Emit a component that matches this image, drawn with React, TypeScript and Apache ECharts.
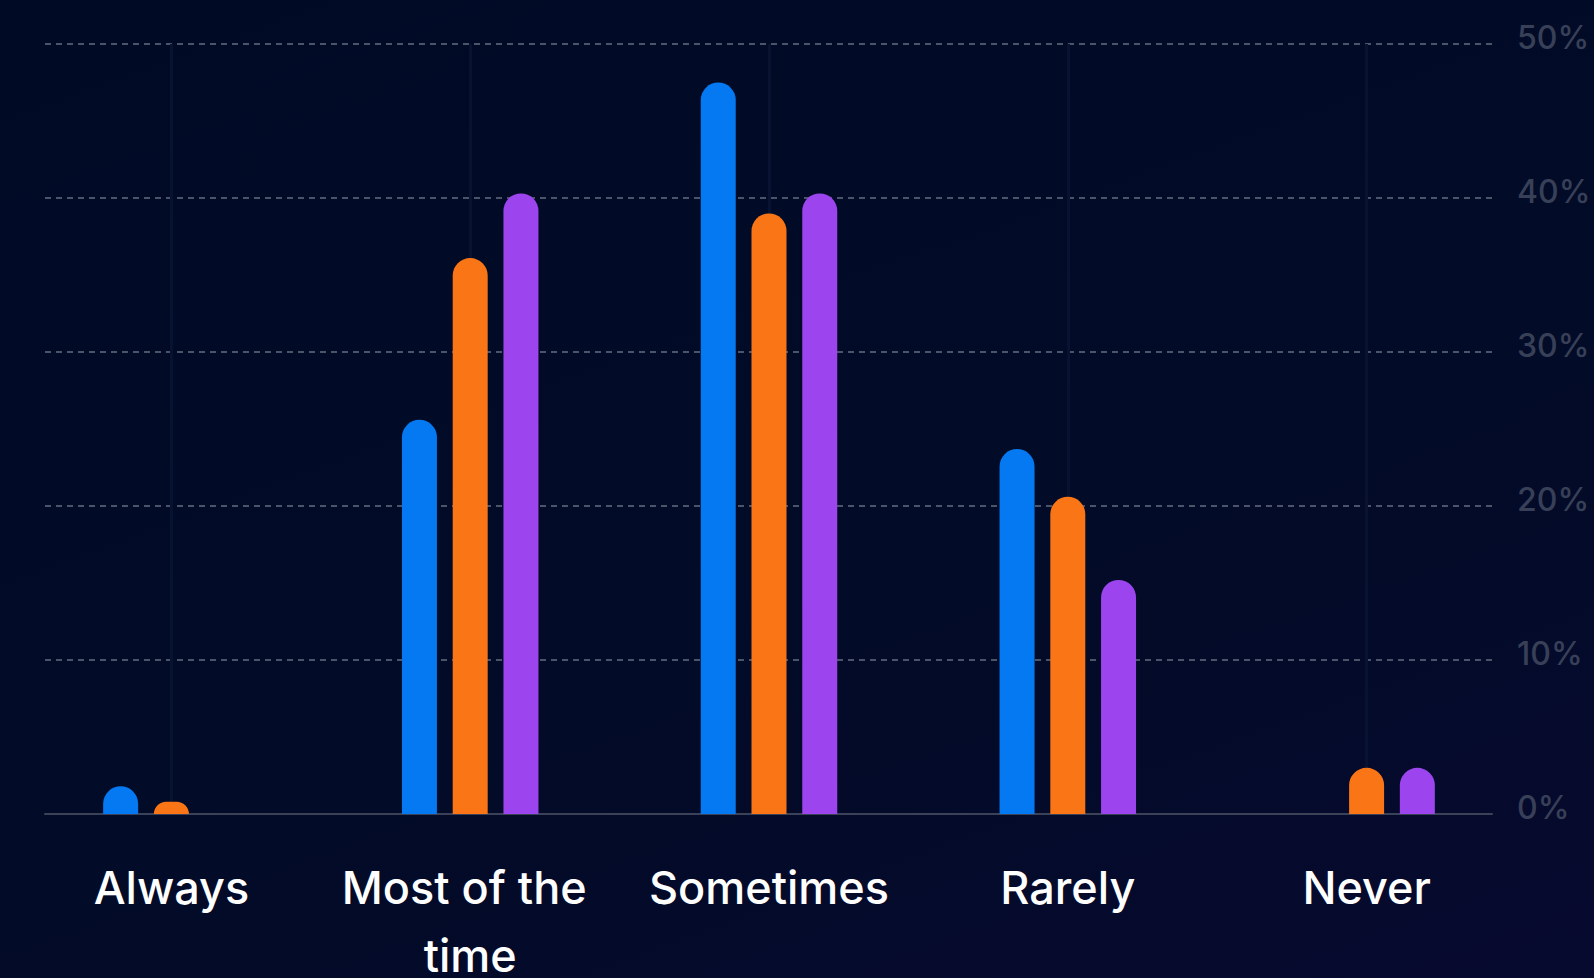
import React, { useEffect, useRef } from "react";
import * as echarts from "echarts";

// Survey answers, share of respondents (%) per group
const categories = ["Always", "Most of the time", "Sometimes", "Rarely", "Never"];
const blueValues = [1.8, 25.6, 47.5, 23.7, 0];
const orangeValues = [0.8, 36.1, 39.0, 20.6, 3.0];
const purpleValues = [0, 40.3, 40.3, 15.2, 3.0];
const yMin = 0;
const yMax = 50;
const yStep = 10;

const BLUE = "#0479F1";
const ORANGE = "#F97516";
const PURPLE = "#9C45EE";
const FONT = "Inter, 'Noto Sans', sans-serif";

export default function App() {
  const ref = useRef<HTMLDivElement>(null);

  useEffect(() => {
    if (!ref.current) return;
    const chart = echarts.init(ref.current, null, { renderer: "svg" });

    const top = 44;
    const bottom = 164;
    const barWidth = 35;

    const barSeries = (name: string, data: number[], color: string) => ({
      name,
      type: "bar",
      xAxisIndex: 0,
      yAxisIndex: 0,
      data,
      barWidth,
      barGap: "45%",
      z: 3,
      itemStyle: {
        color,
        borderRadius: [barWidth / 2, barWidth / 2, 0, 0],
      },
    });

    chart.setOption({
      animation: false,
      backgroundColor: "transparent",
      grid: [
        // bars
        { left: 22, right: 78, top, bottom, containLabel: false, outerBoundsMode: "none" },
        // dashed guides, baseline and percentage labels
        { left: 45, right: 102, top, bottom, containLabel: false, outerBoundsMode: "none" },
      ],
      xAxis: [
        {
          type: "category",
          gridIndex: 0,
          data: categories,
          axisLine: { show: false },
          axisTick: { show: false },
          splitLine: { show: false },
          axisLabel: {
            color: "#ffffff",
            fontFamily: FONT,
            fontSize: 45,
            fontWeight: 500,
            lineHeight: 68,
            margin: 39,
            width: 280,
            overflow: "break",
            interval: 0,
          },
        },
        {
          type: "value",
          gridIndex: 1,
          min: 0,
          max: 1,
          axisLine: { show: true, lineStyle: { color: "#3b4258", width: 2 } },
          axisTick: { show: false },
          axisLabel: { show: false },
          splitLine: { show: false },
        },
      ],
      yAxis: [
        {
          type: "value",
          gridIndex: 0,
          min: yMin,
          max: yMax,
          interval: yStep,
          axisLine: { show: false },
          axisTick: { show: false },
          axisLabel: { show: false },
          splitLine: { show: false },
        },
        {
          type: "value",
          gridIndex: 1,
          position: "right",
          min: yMin,
          max: yMax,
          interval: yStep,
          axisLine: { show: false },
          axisTick: { show: false },
          axisLabel: {
            color: "#384058",
            fontFamily: FONT,
            fontSize: 32,
            fontWeight: 500,
            margin: 25,
            verticalAlign: "bottom",
            lineHeight: 13,
            formatter: (v: number) => `${v}%`,
          },
          splitLine: {
            show: true,
            lineStyle: { color: "#4b5469", width: 2, type: [6, 5] },
          },
        },
      ],
      series: [
        {
          // faint guides through each category centre
          name: "guides",
          type: "line",
          xAxisIndex: 0,
          yAxisIndex: 0,
          data: [],
          z: 1,
          silent: true,
          markLine: {
            silent: true,
            z: 1,
            symbol: "none",
            label: { show: false },
            lineStyle: { color: "#081231", width: 3, type: "solid" },
            data: categories.map((c) => ({ xAxis: c })),
          },
        },
        barSeries("A", blueValues, BLUE),
        barSeries("B", orangeValues, ORANGE),
        barSeries("C", purpleValues, PURPLE),
      ],
    });

    return () => chart.dispose();
  }, []);

  return (
    <div
      style={{
        position: "fixed",
        left: 0,
        top: 0,
        width: 1594,
        height: 978,
        background: "linear-gradient(160deg, #010a25 0%, #020b27 60%, #070a2f 100%)",
      }}
    >
      <div ref={ref} style={{ width: 1594, height: 978 }} />
    </div>
  );
}
